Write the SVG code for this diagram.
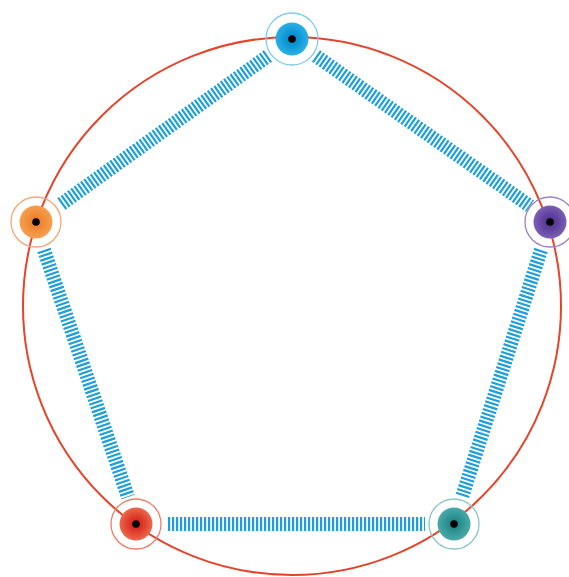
<svg xmlns="http://www.w3.org/2000/svg" width="569" height="577" viewBox="0 0 569 577">
  <defs>
    <radialGradient id="gBlue"><stop offset="0" stop-color="#0a84c4"/><stop offset="0.5" stop-color="#0f9ad8"/><stop offset="1" stop-color="#2cb0e6"/></radialGradient>
    <radialGradient id="gOrange"><stop offset="0" stop-color="#e8782a"/><stop offset="0.5" stop-color="#f08c38"/><stop offset="1" stop-color="#f5a050"/></radialGradient>
    <radialGradient id="gPurple"><stop offset="0" stop-color="#4e3288"/><stop offset="0.5" stop-color="#6244a0"/><stop offset="1" stop-color="#7a60b4"/></radialGradient>
    <radialGradient id="gRed"><stop offset="0" stop-color="#cc1a18"/><stop offset="0.5" stop-color="#e03c2c"/><stop offset="1" stop-color="#ea6a4c"/></radialGradient>
    <radialGradient id="gTeal"><stop offset="0" stop-color="#1f7e7e"/><stop offset="0.5" stop-color="#2e9494"/><stop offset="1" stop-color="#4aaaa8"/></radialGradient>
  </defs>
  <style>
    .ring{fill:none;stroke-width:1.3}
    .dot{fill:#000}
    .link{stroke:#1c9fdc;stroke-width:14;stroke-dasharray:2.2 1.8;fill:none}
  </style>
  <rect width="569" height="577" fill="#ffffff"/>
  <circle cx="292" cy="306" r="269" fill="none" stroke="#e5432a" stroke-width="2"/>
  <g id="connectors">
    <line class="link" x1="268" y1="56" x2="60" y2="205"/>
    <line class="link" x1="316" y1="56" x2="530" y2="206"/>
    <line class="link" x1="541" y1="250" x2="462" y2="497"/>
    <line class="link" x1="44" y1="250" x2="128" y2="497"/>
    <line class="link" x1="168" y1="524" x2="425" y2="524"/>
  </g>
  <g id="node-top">
    <circle class="ring" cx="292" cy="39" r="26" stroke="#7ccbec"/>
    <circle cx="292" cy="39" r="16.5" fill="url(#gBlue)"/>
    <circle class="dot" cx="292" cy="39" r="3.8"/>
  </g>
  <g id="node-left">
    <circle class="ring" cx="36" cy="222" r="25" stroke="#f3a774"/>
    <circle cx="36" cy="222" r="16.5" fill="url(#gOrange)"/>
    <circle class="dot" cx="36" cy="222" r="3.8"/>
  </g>
  <g id="node-right">
    <circle class="ring" cx="550" cy="222" r="25" stroke="#9c82c4"/>
    <circle cx="550" cy="222" r="16.5" fill="url(#gPurple)"/>
    <circle class="dot" cx="550" cy="222" r="3.8"/>
  </g>
  <g id="node-bottom-left">
    <circle class="ring" cx="136" cy="524" r="25" stroke="#ef7c68"/>
    <circle cx="136" cy="524" r="16.5" fill="url(#gRed)"/>
    <circle class="dot" cx="136" cy="524" r="3.8"/>
  </g>
  <g id="node-bottom-right">
    <circle class="ring" cx="454" cy="524" r="25" stroke="#8cc6c6"/>
    <circle cx="454" cy="524" r="16.5" fill="url(#gTeal)"/>
    <circle class="dot" cx="454" cy="524" r="3.8"/>
  </g>
</svg>
